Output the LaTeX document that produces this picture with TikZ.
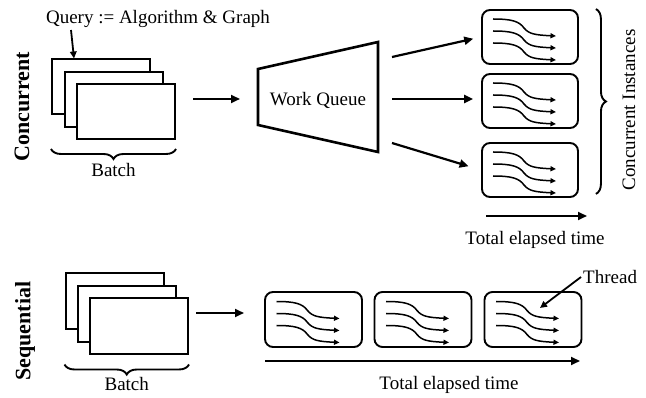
\documentclass[tikz,border=0pt]{standalone}
\usepackage{fontspec}
\setmainfont{Liberation Serif}
\usetikzlibrary{arrows.meta,decorations.pathreplacing,calc}

\tikzset{
  page/.style={draw, line width=2pt, fill=white, minimum width=98pt, minimum height=55pt, inner sep=0pt},
  inst/.style={draw, line width=1.9pt, rounded corners=8pt, minimum width=96pt, minimum height=54pt, inner sep=0pt},
  flow/.style={line width=2.2pt, -{Triangle[length=9pt,width=8pt]}},
  pointer/.style={line width=1.8pt, -{Triangle[length=7pt,width=6.5pt]}},
  thr/.style={line width=1.5pt, -{Triangle[length=5.5pt,width=5pt]}},
  lbl/.style={font=\fontsize{19}{22}\selectfont, inner sep=0pt},
  side/.style={font=\bfseries\fontsize{22}{24}\selectfont, rotate=90, inner sep=0pt},
  brc/.style={decorate, line width=1.9pt, decoration={brace, amplitude=10pt}},
  threads/.pic={
    \foreach \dy in {0,12,24}{
      \begin{scope}[shift={(0,\dy)}]
        \draw[thr] (-37,-18) .. controls (-19,-18) and (-11,-16) .. (-6,-9)
                   .. controls (-1,-3) and (5,-2) .. (26,-1);
      \end{scope}
    }
  }
}

\begin{document}
\begin{tikzpicture}[x=1pt,y=-1pt]
\useasboundingbox (0,0) rectangle (646,398);

% ---------- concurrent row ----------
\node[side] (conc) at (22,107) {Concurrent};
\node[lbl] (query) at (158,19) {Query := Algorithm \& Graph};

\node[page] (c1) at (101,87) {};
\node[page] (c2) at (114,99.5) {};
\node[page] (c3) at (126,111.5) {};

\coordinate (qa) at (71,30);
\draw[pointer] (qa) -- ([xshift=23pt]c1.north west);

\draw[brc, decoration={mirror}] ($(c1.west |- c3.south)+(0,9)$) -- ($(c3.south east)+(0,9)$)
  node[midway, below=13pt, lbl] (batchc) {Batch};

% work queue funnel
\coordinate (wqa) at (258,69);
\coordinate (wqb) at (378,42);
\coordinate (wqc) at (378,152);
\coordinate (wqd) at (258,125);
\draw[line width=2.6pt, line join=miter] (wqa) -- (wqb) -- (wqc) -- (wqd) -- cycle;
\node[lbl] (wq) at (318,100) {Work Queue};

\coordinate (bin1) at (193,99);
\coordinate (bin2) at (240,99);
\draw[flow] (bin1) -- (bin2);

% concurrent instances
\node[inst] (i1) at (530,37) {};
\node[inst] (i2) at (530,101) {};
\node[inst] (i3) at (530,170) {};
\pic at (i1.center) {threads};
\pic at (i2.center) {threads};
\pic at (i3.center) {threads};

\coordinate (o1) at (392,57);
\coordinate (o2) at (392,99);
\coordinate (o3) at (392,143);
\draw[flow, shorten >=8pt] (o1) -- (i1.west);
\draw[flow, shorten >=8pt] (o2) -- (i2.west |- o2);
\draw[flow, shorten >=13pt] (o3) -- (i3.west);

\draw[brc] ($(i1.north east)+(17,0)$) -- ($(i3.south east)+(17,-4)$)
  coordinate[midway] (bm);
\node[lbl, rotate=90] (ci) at (629,110) {Concurrent Instances};

\coordinate (ta) at (486,216);
\coordinate (tb) at (587,216);
\draw[flow] (ta) -- (tb);
\node[lbl] (tlc) at (535,240) {Total elapsed time};

% ---------- sequential row ----------
\node[side] (seq) at (25,331) {Sequential};

\node[page, minimum height=56pt] (s1) at (114.5,301) {};
\node[page, minimum height=56pt] (s2) at (127,314.5) {};
\node[page, minimum height=56pt] (s3) at (139,326.5) {};

\draw[brc, decoration={mirror}] ($(s1.west |- s3.south)+(0,9)$) -- ($(s3.south east)+(0,9)$)
  node[midway, below=12pt, lbl] (batchs) {Batch};

\coordinate (sa) at (196,313);
\coordinate (sb) at (244,313);
\draw[flow] (sa) -- (sb);

\node[inst, minimum width=97pt, minimum height=55pt] (q1) at (313.5,319.5) {};
\node[inst, minimum width=97pt, minimum height=55pt] (q2) at (423,319.5) {};
\node[inst, minimum width=97pt, minimum height=55pt] (q3) at (533,319.5) {};
\pic at (q1.center) {threads};
\pic at (q2.center) {threads};
\pic at (q3.center) {threads};

\node[lbl, anchor=west] (thread) at (583,277) {Thread};
\coordinate (tp) at (540,308);
\draw[pointer] ([xshift=-2pt]thread.west) -- (tp);

\coordinate (ua) at (265,361);
\coordinate (ub) at (580,361);
\draw[flow] (ua) -- (ub);
\node[lbl] (tls) at (449,385) {Total elapsed time};

\end{tikzpicture}
\end{document}
